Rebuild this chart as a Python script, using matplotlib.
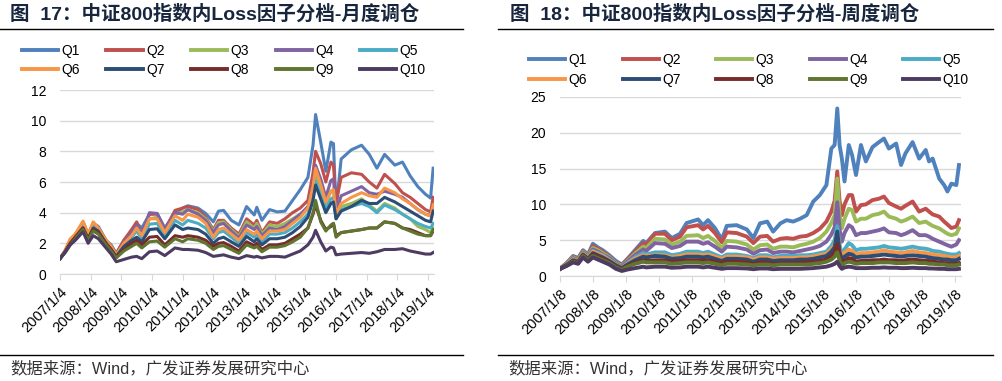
import numpy as np
import matplotlib.pyplot as plt
from matplotlib.lines import Line2D

plt.rcParams['font.family'] = ['Liberation Sans', 'Noto Sans CJK SC']

# ---------------- monthly rebalance (left) ----------------
months = [0, 2, 4, 6, 9, 11, 13, 15, 18, 20,
          22, 25, 28, 30, 32, 35, 38, 41, 45, 48,
          50, 54, 57, 60, 62, 64, 67, 70, 73, 76,
          77, 79, 82, 85, 88, 91, 94, 97, 99, 100,
          102, 104, 106, 107, 108, 110, 114, 118, 121, 124,
          127, 131, 134, 137, 140, 143, 145, 146]

q1_m = [1.0, 1.5, 2.1, 2.5, 3.4, 2.6, 3.3, 3.1, 2.2, 1.9,
        1.35, 2.2, 2.8, 3.3, 3.0, 3.9, 3.95, 3.0, 3.95, 4.3,
        4.45, 4.3, 3.95, 3.4, 4.1, 4.15, 3.5, 3.2, 4.4, 3.85,
        4.35, 3.5, 4.2, 4.05, 4.1, 4.8, 5.5, 6.3, 8.4, 10.4,
        8.6, 6.7, 8.6, 8.5, 4.2, 7.5, 8.1, 8.4, 7.8, 6.9,
        7.8, 7.1, 7.3, 6.4, 5.7, 5.2, 4.95, 6.9]
q2_m = [1.0, 1.5, 2.2, 2.6, 3.3, 2.5, 3.3, 3.0, 2.2, 1.8,
        1.3, 2.2, 2.9, 3.4, 2.6, 3.9, 3.9, 2.9, 4.15, 4.3,
        4.4, 4.2, 3.7, 2.9, 3.5, 3.5, 3.0, 2.6, 3.6, 3.2,
        3.5, 2.7, 3.4, 3.3, 3.6, 4.0, 4.3, 4.8, 6.6, 8.0,
        7.2, 6.0, 7.3, 7.1, 4.6, 6.3, 6.6, 6.5, 6.0, 5.6,
        6.5, 5.9, 5.3, 5.0, 4.6, 4.2, 4.05, 5.0]
q3_m = [1.0, 1.5, 2.1, 2.5, 3.2, 2.4, 3.2, 2.9, 2.1, 1.7,
        1.2, 2.0, 2.6, 3.1, 2.5, 3.6, 3.7, 2.8, 3.9, 4.05,
        4.2, 4.0, 3.6, 2.8, 3.35, 3.4, 2.9, 2.45, 3.4, 3.0,
        3.3, 2.6, 3.2, 3.1, 3.3, 3.6, 3.9, 4.3, 5.5, 6.6,
        5.7, 4.6, 5.4, 5.5, 3.7, 4.4, 4.6, 4.9, 4.5, 4.1,
        4.6, 4.3, 3.9, 3.6, 3.1, 2.9, 2.7, 3.0]
q4_m = [1.0, 1.5, 2.2, 2.5, 3.2, 2.4, 3.2, 2.9, 2.1, 1.7,
        1.2, 2.0, 2.7, 3.2, 2.6, 4.0, 3.95, 2.9, 4.0, 3.9,
        4.2, 3.9, 3.5, 2.7, 3.2, 3.3, 2.8, 2.35, 3.2, 2.9,
        3.1, 2.5, 3.0, 2.9, 3.1, 3.5, 3.9, 4.4, 5.8, 7.1,
        6.2, 5.0, 6.1, 6.2, 4.0, 5.1, 5.4, 5.7, 5.3, 5.2,
        5.4, 5.2, 5.0, 4.6, 4.2, 3.9, 3.8, 4.5]
q5_m = [1.0, 1.45, 2.0, 2.4, 3.1, 2.3, 3.1, 2.9, 2.1, 1.7,
        1.2, 1.9, 2.4, 2.8, 2.3, 3.25, 3.3, 2.5, 3.5, 3.2,
        3.5, 3.3, 3.0, 2.3, 2.7, 2.8, 2.4, 2.0, 2.7, 2.4,
        2.6, 2.1, 2.6, 2.6, 2.7, 3.0, 3.4, 3.9, 5.0, 6.1,
        5.1, 4.3, 4.9, 5.0, 3.6, 4.2, 4.4, 4.6, 4.4, 4.0,
        4.5, 4.2, 3.9, 3.6, 3.3, 3.1, 3.0, 3.3]
q6_m = [1.0, 1.55, 2.3, 2.6, 3.45, 2.6, 3.4, 3.0, 2.2, 1.8,
        1.25, 2.0, 2.5, 3.0, 2.5, 3.6, 3.6, 2.7, 3.8, 3.5,
        3.9, 3.7, 3.3, 2.4, 2.9, 3.0, 2.6, 2.2, 2.9, 2.6,
        2.8, 2.3, 2.8, 2.8, 2.9, 3.3, 3.7, 4.3, 5.7, 6.9,
        5.8, 4.7, 5.4, 5.5, 3.9, 4.6, 5.0, 5.3, 5.1, 5.0,
        5.6, 5.3, 4.9, 4.6, 4.2, 3.9, 3.8, 4.5]
q7_m = [1.0, 1.45, 2.0, 2.4, 3.0, 2.3, 3.0, 2.8, 2.0, 1.6,
        1.15, 1.8, 2.2, 2.4, 2.1, 2.9, 2.95, 2.3, 3.2, 2.9,
        3.0, 2.9, 2.6, 2.0, 2.3, 2.4, 2.1, 1.8, 2.45, 2.1,
        2.3, 1.9, 2.3, 2.3, 2.4, 2.7, 3.1, 3.7, 4.8, 5.8,
        4.9, 4.0, 4.6, 4.7, 3.6, 4.1, 4.4, 4.8, 4.6, 4.6,
        5.0, 4.7, 4.4, 4.1, 3.8, 3.5, 3.4, 4.1]
q8_m = [1.0, 1.45, 2.0, 2.4, 3.0, 2.3, 2.9, 2.7, 2.0, 1.6,
        1.1, 1.6, 2.0, 2.2, 1.9, 2.4, 2.45, 1.9, 2.5, 2.4,
        2.5, 2.4, 2.2, 1.8, 2.0, 2.05, 1.8, 1.5, 2.1, 1.85,
        2.0, 1.6, 1.9, 1.9, 2.0, 2.3, 2.6, 3.0, 3.9, 4.5,
        3.5, 2.9, 3.1, 3.3, 2.5, 2.7, 2.8, 2.9, 3.0, 3.0,
        3.4, 3.3, 3.0, 2.9, 2.7, 2.5, 2.5, 2.8]
q9_m = [1.0, 1.4, 1.9, 2.3, 2.9, 2.2, 2.8, 2.6, 1.9, 1.5,
        1.05, 1.5, 1.8, 2.0, 1.7, 2.1, 2.15, 1.75, 2.3, 2.1,
        2.3, 2.2, 2.0, 1.6, 1.8, 1.85, 1.6, 1.35, 1.9, 1.7,
        1.8, 1.45, 1.75, 1.75, 1.85, 2.1, 2.4, 3.0, 4.0, 4.8,
        3.4, 2.8, 3.2, 3.3, 2.4, 2.7, 2.8, 2.9, 3.0, 3.0,
        3.4, 3.3, 3.0, 2.8, 2.6, 2.5, 2.5, 2.9]
q10_m = [1.0, 1.4, 1.9, 2.2, 2.75, 2.0, 2.5, 2.3, 1.7, 1.3,
         0.8, 0.95, 1.1, 1.15, 1.0, 1.45, 1.5, 1.2, 1.7, 1.6,
         1.6, 1.55, 1.4, 1.15, 1.2, 1.25, 1.1, 1.0, 1.2, 1.1,
         1.15, 1.05, 1.15, 1.15, 1.1, 1.3, 1.5, 1.9, 2.4, 2.85,
         2.1, 1.5, 1.75, 1.7, 1.25, 1.3, 1.35, 1.4, 1.35, 1.45,
         1.6, 1.6, 1.65, 1.5, 1.4, 1.3, 1.3, 1.4]

# ---------------- weekly rebalance (right) ----------------
weeks = [2007.0, 2007.2, 2007.4, 2007.55, 2007.7, 2007.85, 2008.0, 2008.15, 2008.3, 2008.5,
         2008.7, 2008.88, 2009.05, 2009.28, 2009.53, 2009.62, 2009.89, 2010.19, 2010.4, 2010.65,
         2010.85, 2011.2, 2011.35, 2011.5, 2011.71, 2011.92, 2012.07, 2012.37, 2012.68, 2012.88,
         2013.08, 2013.3, 2013.48, 2013.7, 2013.89, 2014.09, 2014.3, 2014.5, 2014.7, 2014.9,
         2015.1, 2015.25, 2015.35, 2015.43, 2015.5, 2015.57, 2015.65, 2015.78, 2015.88, 2016.0,
         2016.15, 2016.3, 2016.5, 2016.7, 2016.85, 2017.0, 2017.22, 2017.37, 2017.5, 2017.72,
         2017.92, 2018.12, 2018.22, 2018.33, 2018.53, 2018.68, 2018.78, 2018.9, 2019.05, 2019.13]

q1_w = [1.0, 1.8, 2.8, 2.5, 3.6, 3.0, 4.5, 4.0, 3.6, 2.9,
        2.1, 1.6, 2.4, 3.6, 4.9, 4.6, 6.0, 6.2, 5.3, 5.9,
        7.4, 7.9, 7.1, 7.8, 6.7, 5.1, 7.0, 7.1, 6.5, 5.3,
        7.35, 7.6, 6.2, 7.35, 7.8, 7.6, 8.0, 8.5, 10.4, 11.3,
        12.7, 17.8, 18.3, 23.4, 18.3, 16.4, 13.2, 18.3, 16.9, 14.1,
        18.3, 16.0, 18.0, 18.7, 19.2, 17.8, 18.5, 15.5, 17.1, 18.7,
        16.4, 17.6, 16.0, 16.4, 13.6, 12.7, 11.8, 12.9, 12.7, 15.5]
q2_w = [1.0, 1.8, 2.7, 2.4, 3.5, 2.9, 4.2, 3.8, 3.4, 2.7,
        1.9, 1.5, 2.3, 3.4, 4.6, 4.4, 5.9, 5.9, 5.0, 5.5,
        6.8, 7.1, 6.5, 7.0, 6.0, 4.7, 6.1, 6.0, 5.5, 4.6,
        5.5, 5.6, 4.8, 5.2, 5.3, 5.2, 5.5, 5.6, 6.0, 6.6,
        7.6, 9.0, 10.5, 14.6, 10.5, 8.5, 10.0, 11.3, 11.3, 9.0,
        9.9, 10.0, 10.6, 10.8, 11.1, 10.2, 9.7, 9.4, 9.8, 10.4,
        9.0, 9.4, 9.0, 8.6, 8.3, 7.6, 7.2, 6.7, 6.9, 7.8]
q3_w = [1.0, 1.75, 2.6, 2.3, 3.4, 2.8, 3.9, 3.6, 3.2, 2.6,
        1.8, 1.4, 2.1, 3.1, 4.1, 3.9, 5.2, 5.1, 4.4, 4.8,
        5.6, 5.7, 5.3, 5.6, 4.9, 3.9, 4.9, 4.8, 4.4, 3.7,
        4.3, 4.4, 3.8, 4.1, 4.1, 4.0, 4.3, 4.5, 4.8, 5.3,
        6.2, 7.4, 8.5, 13.6, 8.5, 6.65, 8.0, 9.4, 9.2, 7.6,
        8.0, 8.0, 8.5, 8.7, 9.0, 8.3, 8.0, 7.6, 7.8, 8.3,
        7.4, 7.6, 7.3, 7.0, 6.65, 6.2, 5.9, 5.7, 5.9, 6.65]
q4_w = [1.0, 1.7, 2.5, 2.2, 3.3, 2.7, 3.7, 3.4, 3.0, 2.5,
        1.7, 1.3, 2.0, 2.9, 3.7, 3.5, 4.6, 4.5, 3.9, 4.2,
        4.8, 4.8, 4.5, 4.7, 4.1, 3.4, 4.1, 4.0, 3.7, 3.1,
        3.6, 3.7, 3.2, 3.4, 3.4, 3.3, 3.5, 3.7, 3.9, 4.2,
        4.8, 5.8, 6.8, 10.3, 6.5, 4.8, 6.0, 7.1, 6.8, 5.7,
        6.0, 6.0, 6.2, 6.4, 6.65, 6.1, 6.0, 5.7, 5.9, 6.4,
        5.7, 5.7, 5.5, 5.2, 4.8, 4.5, 4.3, 4.1, 4.4, 5.0]
q5_w = [1.0, 1.65, 2.4, 2.1, 3.2, 2.6, 3.5, 3.2, 2.9, 2.3,
        1.6, 1.2, 1.8, 2.6, 3.2, 3.0, 3.3, 3.3, 2.9, 3.1,
        3.4, 3.4, 3.2, 3.4, 3.0, 2.6, 3.0, 3.0, 2.8, 2.5,
        2.9, 2.9, 2.6, 2.8, 2.8, 2.8, 2.9, 2.9, 3.0, 3.2,
        3.4, 4.2, 5.0, 6.9, 4.4, 2.9, 3.7, 4.6, 4.3, 3.6,
        3.8, 3.8, 3.9, 4.0, 4.2, 4.0, 3.9, 3.8, 3.9, 4.1,
        3.9, 3.8, 3.7, 3.5, 3.4, 3.2, 3.1, 3.0, 3.0, 3.2]
q6_w = [1.0, 1.6, 2.3, 2.1, 3.1, 2.5, 3.4, 3.1, 2.8, 2.2,
        1.55, 1.15, 1.7, 2.4, 2.9, 2.8, 2.9, 2.9, 2.6, 2.8,
        3.0, 3.0, 2.9, 3.0, 2.7, 2.4, 2.7, 2.7, 2.6, 2.3,
        2.6, 2.6, 2.4, 2.5, 2.5, 2.5, 2.6, 2.6, 2.7, 2.9,
        3.1, 3.7, 4.4, 6.0, 3.9, 2.6, 3.2, 3.7, 3.5, 3.0,
        3.2, 3.2, 3.3, 3.4, 3.6, 3.4, 3.3, 3.2, 3.3, 3.5,
        3.3, 3.2, 3.1, 3.0, 2.9, 2.8, 2.7, 2.6, 2.6, 2.8]
q7_w = [1.0, 1.55, 2.2, 2.0, 3.0, 2.4, 3.2, 2.9, 2.6, 2.1,
        1.5, 1.1, 1.6, 2.2, 2.7, 2.6, 2.8, 2.7, 2.4, 2.5,
        2.7, 2.7, 2.6, 2.7, 2.4, 2.1, 2.4, 2.4, 2.3, 2.0,
        2.3, 2.3, 2.1, 2.2, 2.2, 2.2, 2.3, 2.3, 2.4, 2.6,
        2.8, 3.4, 4.0, 6.2, 3.4, 2.2, 2.7, 3.1, 3.0, 2.6,
        2.7, 2.7, 2.8, 2.9, 3.0, 2.9, 2.8, 2.7, 2.8, 2.9,
        2.8, 2.7, 2.6, 2.5, 2.4, 2.3, 2.3, 2.2, 2.2, 2.4]
q8_w = [1.0, 1.5, 2.1, 1.9, 2.9, 2.3, 3.0, 2.7, 2.4, 1.9,
        1.3, 0.95, 1.4, 1.9, 2.2, 2.1, 2.2, 2.2, 2.0, 2.1,
        2.2, 2.2, 2.1, 2.2, 2.0, 1.8, 2.0, 2.0, 1.9, 1.7,
        1.9, 1.9, 1.7, 1.8, 1.8, 1.8, 1.9, 1.9, 2.0, 2.1,
        2.3, 2.8, 3.3, 4.4, 2.7, 1.8, 2.1, 2.5, 2.4, 2.0,
        2.1, 2.1, 2.2, 2.2, 2.3, 2.2, 2.2, 2.1, 2.2, 2.3,
        2.2, 2.1, 2.1, 2.0, 1.9, 1.8, 1.8, 1.7, 1.7, 1.8]
q9_w = [1.0, 1.45, 2.0, 1.8, 2.8, 2.2, 2.8, 2.5, 2.2, 1.8,
        1.2, 0.85, 1.3, 1.7, 2.0, 1.9, 1.9, 1.9, 1.7, 1.8,
        1.9, 1.9, 1.8, 1.9, 1.7, 1.5, 1.7, 1.7, 1.6, 1.5,
        1.6, 1.6, 1.5, 1.6, 1.6, 1.6, 1.6, 1.6, 1.7, 1.8,
        2.0, 2.3, 2.7, 3.3, 2.2, 1.5, 1.8, 2.0, 1.9, 1.7,
        1.8, 1.8, 1.8, 1.9, 1.9, 1.9, 1.8, 1.8, 1.8, 1.9,
        1.8, 1.8, 1.7, 1.7, 1.6, 1.6, 1.5, 1.5, 1.5, 1.6]
q10_w = [1.0, 1.4, 1.9, 1.7, 2.6, 2.0, 2.6, 2.3, 2.0, 1.6,
         1.0, 0.7, 0.9, 1.1, 1.3, 1.2, 1.3, 1.3, 1.15, 1.2,
         1.3, 1.3, 1.2, 1.3, 1.15, 1.0, 1.1, 1.1, 1.05, 0.95,
         1.05, 1.05, 0.95, 1.0, 1.0, 1.0, 1.0, 1.05, 1.1, 1.2,
         1.3, 1.5, 1.7, 2.0, 1.4, 1.0, 1.2, 1.3, 1.25, 1.1,
         1.1, 1.1, 1.15, 1.15, 1.2, 1.15, 1.15, 1.1, 1.1, 1.15,
         1.1, 1.1, 1.05, 1.05, 1.0, 1.0, 0.95, 0.95, 0.95, 1.0]

labels = ['Q1', 'Q2', 'Q3', 'Q4', 'Q5', 'Q6', 'Q7', 'Q8', 'Q9', 'Q10']
xlabels_m = ['%d/1/4' % y for y in range(2007, 2020)]
xlabels_w = ['%d/1/8' % y for y in range(2007, 2020)]
colors = ['#4F81BD', '#C0504D', '#9BBB59', '#8064A2', '#4BACC6',
          '#F79646', '#2C4D75', '#772C2A', '#5F7530', '#4D3B62']

monthly = [q1_m, q2_m, q3_m, q4_m, q5_m, q6_m, q7_m, q8_m, q9_m, q10_m]
weekly = [q1_w, q2_w, q3_w, q4_w, q5_w, q6_w, q7_w, q8_w, q9_w, q10_w]
x_m = 2007 + np.array(months) / 12.0
x_w = np.array(weeks)

W, H = 1003, 381
fig = plt.figure(figsize=(W / 100, H / 100), dpi=100)


def px_axes(x0, x1, y_top, y_bot):
    return fig.add_axes([x0 / W, 1 - y_bot / H, (x1 - x0) / W, (y_bot - y_top) / H])


def style(ax, ymax, ystep, xlabels):
    ax.set_xlim(2007, 2019.2)
    ax.set_ylim(0, ymax)
    ax.set_yticks(np.arange(0, ymax + 0.1, ystep))
    ax.set_xticks(np.arange(2007, 2020))
    ax.set_xticklabels(xlabels, rotation=45, ha='right', rotation_mode='anchor', fontsize=10.5)
    ax.grid(axis='y', color='#d9d9d9', lw=1)
    ax.set_axisbelow(True)
    for s in ['left', 'right', 'top']:
        ax.spines[s].set_visible(False)
    ax.spines['bottom'].set_color('#d9d9d9')
    ax.tick_params(axis='y', length=0, pad=10, labelsize=10)
    ax.tick_params(axis='x', length=4, color='#d9d9d9', pad=4)


ax1 = px_axes(60, 60 + 12.2 * 30.67, 90, 274)
for ys, c in zip(monthly, colors):
    ax1.plot(x_m, ys, color=c, lw=2.2, solid_joinstyle='round')
style(ax1, 12, 2, xlabels_m)

ax2 = px_axes(560, 560 + 12.2 * 32.89, 97, 276)
for ys, c in zip(weekly, colors):
    ax2.plot(x_w, ys, color=c, lw=2.8, solid_joinstyle='round')
style(ax2, 25, 5, xlabels_w)

# legends, filled row-wise
order = [0, 5, 1, 6, 2, 7, 3, 8, 4, 9]
handles = [Line2D([], [], color=colors[i], lw=2.8) for i in order]
names = [labels[i] for i in order]
fig.legend(handles, names, ncol=5, loc='upper left', bbox_to_anchor=(22 / W, 1 - 44 / H),
           frameon=False, fontsize=10, handlelength=2.6, handletextpad=0.25,
           columnspacing=1.9, labelspacing=0.35, borderpad=0, borderaxespad=0)
fig.legend(handles, names, ncol=5, loc='upper left', bbox_to_anchor=(529 / W, 1 - 53 / H),
           frameon=False, fontsize=10, handlelength=2.6, handletextpad=0.25,
           columnspacing=2.55, labelspacing=0.4, borderpad=0, borderaxespad=0)

# titles, rules, sources
title_c = '#17253d'
fig.text(10 / W, 1 - 14 / H, '图  17：中证800指数内Loss因子分档-月度调仓', fontsize=14,
         fontweight='bold', va='center', color=title_c)
fig.text(510 / W, 1 - 14 / H, '图  18：中证800指数内Loss因子分档-周度调仓', fontsize=14,
         fontweight='bold', va='center', color=title_c)
for (a, b) in [(0, 463), (498, 993)]:
    for yy in [28.5, 354.5]:
        fig.add_artist(Line2D([a / W, b / W], [1 - yy / H, 1 - yy / H], color='black', lw=1))
    fig.text((a + 10) / W, 1 - 369 / H, '数据来源：Wind，广发证券发展研究中心',
             fontsize=11.8, va='center', color='#333333')

fig.savefig('out.png', dpi=100)
